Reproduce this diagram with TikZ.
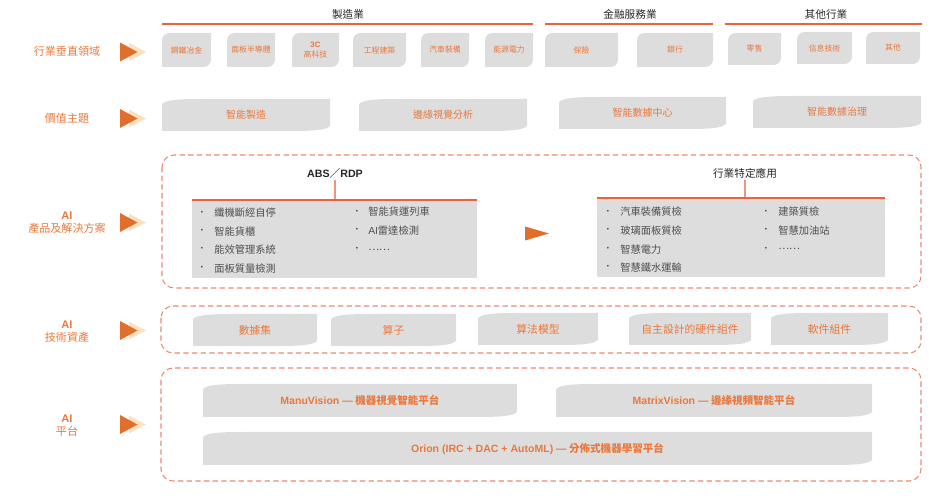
\documentclass[tikz,border=0pt]{standalone}
\usepackage{fontspec}
\setmainfont{Noto Sans CJK TC}
\newfontfamily\latf{Liberation Sans}
\definecolor{orT}{RGB}{233,120,60}
\definecolor{orD}{RGB}{226,110,45}
\definecolor{orL}{RGB}{250,226,192}
\definecolor{boxg}{RGB}{221,221,221}
\definecolor{dashc}{RGB}{234,136,110}
\definecolor{hlinec}{RGB}{236,98,60}
\definecolor{txtg}{RGB}{80,80,80}
\definecolor{connc}{RGB}{238,150,125}
\tikzset{
  hdr/.style={text=black!85, font=\fontsize{8}{9}\selectfont, inner sep=1pt},
  hdrline/.style={draw=hlinec, line width=1.1pt},
  smtxt/.style={text=orT, font=\fontsize{5.9}{7}\selectfont, align=center, inner sep=0pt},
  rowtxt/.style={text=orT, font=\fontsize{7.5}{9}\selectfont, inner sep=0pt},
  bldtxt/.style={text=orT, font=\bfseries\fontsize{7.9}{9}\selectfont, inner sep=0pt},
  lefttxt/.style={text=orT, font=\fontsize{8.3}{9.8}\selectfont, align=center, inner sep=0pt},
  dashbox/.style={draw=dashc, line width=0.8pt, dash pattern=on 4pt off 2.5pt, rounded corners=9pt},
  itm/.style={text=txtg, font=\fontsize{7.7}{9}\selectfont, anchor=west, inner sep=0pt},
  bul/.style={text=txtg, font=\fontsize{6.5}{7}\selectfont, inner sep=0pt},
  conn/.style={draw=connc, line width=0.8pt}
}
\newcommand\wbox[7][rowtxt]{%
  \fill[boxg] (#3,{#4+5}) .. controls ({#3+4},{#4+1}) and ({#3+15},#4) .. ({#3+40},#4) -- (#5,#4) -- (#5,{#6-5}) .. controls ({#5-4},{#6-1}) and ({#5-15},#6) .. ({#5-40},#6) -- (#3,#6) -- cycle;
  \node[#1] (#2) at ({(#3+#5)/2},{(#4+#6)/2}) {#7};}
\newcommand\indbox[6]{%
  \fill[boxg] (#2,{#3+8}) .. controls (#2,{#3+3}) and ({#2+3},#3) .. ({#2+8},#3) -- (#4,#3) -- (#4,{#5-8}) .. controls (#4,{#5-3}) and ({#4-3},#5) .. ({#4-8},#5) -- (#2,#5) -- cycle;
  \node[smtxt] (#1) at ({(#2+#4)/2},{(#3+#5)/2}) {#6};}
\newcommand\arrico[1]{%
  \fill[orL] (129,{#1-9}) -- (146,#1) -- (129,{#1+9}) -- cycle;
  \fill[orD] (120,{#1-9.5}) -- (137.5,#1) -- (120,{#1+9.5}) -- cycle;}
\begin{document}
\begin{tikzpicture}[x=0.75pt,y=-0.75pt]
\useasboundingbox (0,0) rectangle (940,502);
% headers
\node[hdr] (h1) at (348,14) {製造業};
\node[hdr] (h2) at (630,14) {金融服務業};
\node[hdr] (h3) at (826,14) {其他行業};
\draw[hdrline] (162,24) -- (533,24);
\draw[hdrline] (545,24) -- (713,24);
\draw[hdrline] (725,24) -- (922,24);
% row 1
\indbox{v1}{162}{33}{211}{67}{鋼鐵冶金}
\indbox{v2}{227}{33}{275}{67}{面板半導體}
\indbox{v3}{292}{33}{339}{67}{{\latf\bfseries 3C}\\高科技}
\indbox{v4}{353}{33}{406}{67}{工程建築}
\indbox{v5}{421}{33}{469}{67}{汽車裝備}
\indbox{v6}{485}{33}{533}{67}{能源電力}
\indbox{v7}{545}{33}{618}{67}{保險}
\indbox{v8}{637}{33}{713}{67}{銀行}
\indbox{v9}{728}{33}{781}{65}{零售}
\indbox{v10}{797}{32}{852}{64}{信息技術}
\indbox{v11}{866}{32}{920}{64}{其他}
% left labels
\node[lefttxt] (l1) at (67,51) {行業垂直領域};
\node[lefttxt] (l2) at (67,118.5) {價值主題};
\node[lefttxt] (l3) at (67,222.5) {{\latf\bfseries AI}\\產品及解決方案};
\node[lefttxt] (l4) at (67,331.5) {{\latf\bfseries AI}\\技術資產};
\node[lefttxt] (l5) at (67,425.5) {{\latf\bfseries AI}\\平台};
\arrico{52}
\arrico{118.5}
\arrico{222.5}
\arrico{330.5}
\arrico{424.5}
% row 2
\wbox{t1}{162}{99}{330}{131}{智能製造}
\wbox{t2}{359}{99}{527}{131}{邊緣視覺分析}
\wbox{t3}{559}{97}{726}{129}{智能數據中心}
\wbox{t4}{753}{96}{921}{128}{智能數據治理}
% row 3
\draw[dashbox] (162,155) rectangle (921,288);
\fill[boxg] (192,201) rectangle (477,278);
\fill[boxg] (597,199) rectangle (885,277);
\node[hdr, font=\bfseries\fontsize{8}{9}\selectfont] (abs) at (335,173) {{\latf ABS}／{\latf RDP}};
\node[hdr] (ind) at (745,173) {行業特定應用};
\coordinate (absJ) at (335,200);
\coordinate (indJ) at (745,198);
\draw[conn] (abs.south) -- (absJ);
\draw[conn] (ind.south) -- (indJ);
\draw[hdrline] (192,200) -- (477,200);
\draw[hdrline] (597,198) -- (885,198);
\fill[orD] (525,226.5) -- (549,233.5) -- (525,240.5) -- cycle;
% left list
\foreach \t [count=\i] in {纖機斷經自停,智能貨櫃,能效管理系統,面板質量檢測}
  {\pgfmathsetmacro\yy{213+18.4*(\i-1)}
   \node[bul] at (202,\yy) {•}; \node[itm] at (214,\yy) {\t};}
\foreach \t [count=\i] in {智能貨運列車,{{\latf AI}雷達檢測},……}
  {\pgfmathsetmacro\yy{212+18.8*(\i-1)}
   \node[bul] at (357,\yy) {•}; \node[itm] at (368,\yy) {\t};}
% right list
\foreach \t [count=\i] in {汽車裝備質檢,玻璃面板質檢,智慧電力,智慧鐵水運輸}
  {\pgfmathsetmacro\yy{212+18.6*(\i-1)}
   \node[bul] at (608,\yy) {•}; \node[itm] at (620,\yy) {\t};}
\foreach \t [count=\i] in {建築質檢,智慧加油站,……}
  {\pgfmathsetmacro\yy{212+18.6*(\i-1)}
   \node[bul] at (766,\yy) {•}; \node[itm] at (778,\yy) {\t};}
% row 4
\draw[dashbox] (161,306) rectangle (921,353);
\wbox[rowtxt, font=\fontsize{8.1}{9}\selectfont]{a1}{193}{314}{317}{346}{數據集}
\wbox[rowtxt, font=\fontsize{8.1}{9}\selectfont]{a2}{331}{314}{456}{346}{算子}
\wbox[rowtxt, font=\fontsize{8.1}{9}\selectfont]{a3}{478}{313}{598}{345}{算法模型}
\wbox[rowtxt, font=\fontsize{8.1}{9}\selectfont]{a4}{629}{313}{751}{345}{自主設計的硬件組件}
\wbox[rowtxt, font=\fontsize{8.1}{9}\selectfont]{a5}{771}{313}{888}{345}{軟件組件}
% row 5
\draw[dashbox] (161,368) rectangle (921,481);
\wbox[bldtxt]{p1}{203}{384}{517}{417}{{\latf ManuVision —} 機器視覺智能平台}
\wbox[bldtxt]{p2}{556}{384}{872}{417}{{\latf MatrixVision —} 邊緣視頻智能平台}
\wbox[bldtxt]{p3}{203}{432}{872}{465}{{\latf Orion (IRC + DAC + AutoML) —} 分佈式機器學習平台}
\end{tikzpicture}
\end{document}
